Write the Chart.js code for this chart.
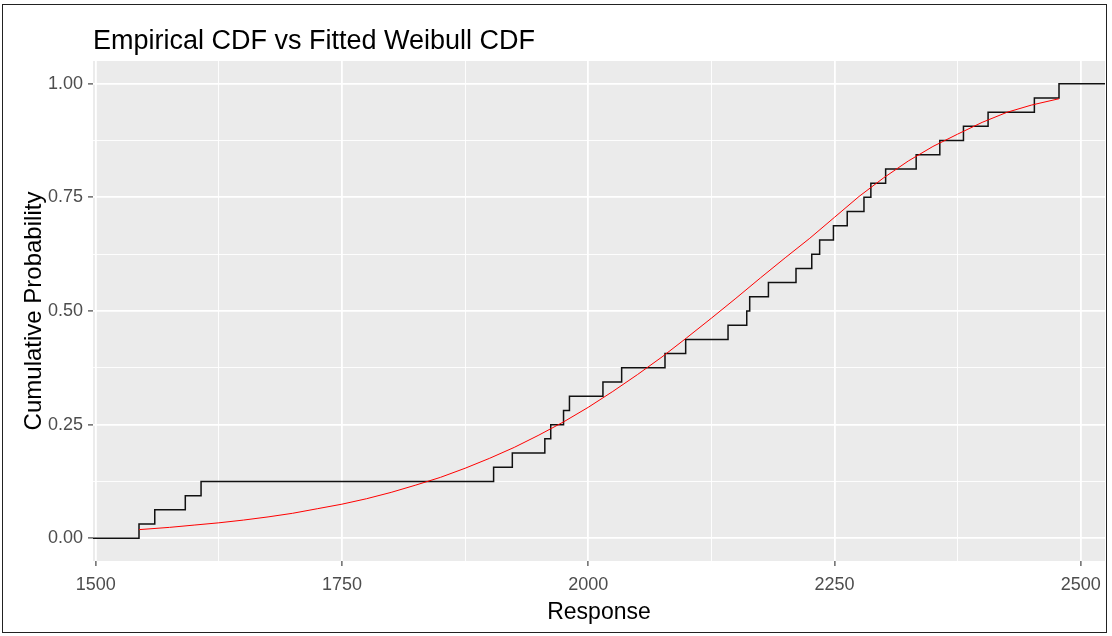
<!DOCTYPE html>
<html>
<head>
  <title>Empirical CDF vs Fitted Weibull CDF</title>
  <script src="https://cdn.jsdelivr.net/npm/chart.js"></script>
  <style>
    body { margin: 0; background: #fff; }
    #wrap { position: relative; width: 1112px; height: 636px; }
    #frame {
      position: absolute; left: 2px; top: 4px; width: 1105px; height: 629px;
      border: 1px solid #222; box-sizing: border-box; pointer-events: none;
    }
  </style>
</head>
<body>
<div id="wrap">
  <canvas id="cdfChart" width="1112" height="636"></canvas>
  <div id="frame"></div>
</div>

<script>
  // sorted responses
  const response = [1544, 1560, 1591, 1607, 1904, 1923, 1956, 1962, 1975, 1981,
                    2015, 2034, 2078, 2099, 2142, 2161, 2164, 2183, 2211, 2227,
                    2235, 2249, 2263, 2280, 2287, 2302, 2333, 2357, 2381, 2406,
                    2453, 2478];
  // empirical cumulative probability at each response
  const ecdfProb = [0.03125, 0.0625, 0.09375, 0.125, 0.15625, 0.1875, 0.21875, 0.25,
                    0.28125, 0.3125, 0.34375, 0.375, 0.40625, 0.4375, 0.46875, 0.5,
                    0.53125, 0.5625, 0.59375, 0.625, 0.65625, 0.6875, 0.71875, 0.75,
                    0.78125, 0.8125, 0.84375, 0.875, 0.90625, 0.9375, 0.96875, 1];

  // fitted weibull cdf (red curve)
  const fitX = [1544, 1575, 1600, 1625, 1650, 1675, 1700, 1725, 1750, 1775,
                1800, 1825, 1850, 1875, 1900, 1925, 1950, 1975, 2000, 2025,
                2050, 2075, 2100, 2125, 2150, 2175, 2200, 2225, 2250, 2275,
                2300, 2325, 2350, 2375, 2400, 2425, 2450, 2478];
  const fitProb = [0.019, 0.024, 0.029, 0.034, 0.040, 0.047, 0.055, 0.065, 0.075, 0.087,
                   0.101, 0.117, 0.134, 0.154, 0.176, 0.200, 0.227, 0.256, 0.288, 0.323,
                   0.360, 0.399, 0.441, 0.484, 0.528, 0.573, 0.617, 0.660, 0.706, 0.752,
                   0.793, 0.830, 0.862, 0.889, 0.915, 0.937, 0.953, 0.967];

  const xMajor = [1500, 1750, 2000, 2250, 2500];
  const xMinor = [1625, 1875, 2125, 2375];
  const yMajor = [0, 0.25, 0.5, 0.75, 1];
  const yMinor = [0.125, 0.375, 0.625, 0.875];

  const xMin = 1497.3, xMax = 2524.7;
  const yMin = -0.05, yMax = 1.05;

  const FONT = "'Liberation Sans', Arial, sans-serif";

  // ecdf padded out to the panel edges like stat_ecdf
  const ecdfPoints = [{ x: xMin, y: 0 }];
  response.forEach((v, i) => ecdfPoints.push({ x: v, y: ecdfProb[i] }));
  ecdfPoints.push({ x: xMax, y: 1 });

  const fitPoints = fitX.map((v, i) => ({ x: v, y: fitProb[i] }));

  const panelBg = {
    id: 'panelBg',
    beforeDraw(chart) {
      const { ctx, chartArea: a } = chart;
      ctx.save();
      ctx.fillStyle = '#EBEBEB';
      ctx.fillRect(a.left, a.top, a.right - a.left, a.bottom - a.top);
      ctx.restore();
    }
  };

  const plotTitle = {
    id: 'plotTitle',
    afterDraw(chart) {
      const { ctx, chartArea: a } = chart;
      ctx.save();
      ctx.fillStyle = '#000';
      ctx.font = '27px ' + FONT;
      ctx.textAlign = 'left';
      ctx.textBaseline = 'alphabetic';
      ctx.fillText('Empirical CDF vs Fitted Weibull CDF', a.left, 49);
      ctx.restore();
    }
  };

  function setTicks(major, minor) {
    return function (scale) {
      scale.ticks = major.concat(minor).sort((a, b) => a - b).map(v => ({ value: v }));
    };
  }

  new Chart(document.getElementById('cdfChart'), {
    type: 'scatter',
    data: {
      datasets: [
        {
          label: 'Fitted Weibull',
          data: fitPoints,
          showLine: true,
          borderColor: '#FF0000',
          borderWidth: 1,
          pointRadius: 0,
          order: 0
        },
        {
          label: 'Empirical',
          data: ecdfPoints,
          showLine: true,
          stepped: 'before',
          borderColor: '#111111',
          borderWidth: 1.5,
          pointRadius: 0,
          order: 1
        }
      ]
    },
    options: {
      responsive: false,
      animation: false,
      layout: { padding: { top: 61, right: 7, left: 0, bottom: 0 } },
      plugins: {
        legend: { display: false },
        tooltip: { enabled: false },
        title: { display: false }
      },
      scales: {
        x: {
          type: 'linear',
          min: xMin,
          max: xMax,
          afterBuildTicks: setTicks(xMajor, xMinor),
          afterFit(scale) { scale.height = 75; },
          border: { display: false },
          grid: {
            color: '#FFFFFF',
            lineWidth: c => xMajor.includes(c.tick.value) ? 1.8 : 0.9,
            tickColor: c => xMajor.includes(c.tick.value) ? '#333333' : 'rgba(0,0,0,0)',
            tickWidth: 1.1,
            tickLength: 5
          },
          ticks: {
            padding: 8,
            maxRotation: 0,
            autoSkip: false,
            color: '#4D4D4D',
            font: { family: FONT, size: 18 },
            callback: v => xMajor.includes(v) ? String(v) : ''
          },
          title: {
            display: true,
            text: 'Response',
            color: '#000',
            font: { family: FONT, size: 23 },
            padding: { top: 0, bottom: 10 }
          }
        },
        y: {
          type: 'linear',
          min: yMin,
          max: yMax,
          afterBuildTicks: setTicks(yMajor, yMinor),
          afterFit(scale) { scale.width = 93; },
          border: { display: false },
          grid: {
            color: '#FFFFFF',
            lineWidth: c => yMajor.includes(c.tick.value) ? 1.8 : 0.9,
            tickColor: c => yMajor.includes(c.tick.value) ? '#333333' : 'rgba(0,0,0,0)',
            tickWidth: 1.1,
            tickLength: 5
          },
          ticks: {
            padding: 5,
            autoSkip: false,
            color: '#4D4D4D',
            font: { family: FONT, size: 18 },
            callback: v => yMajor.includes(v) ? v.toFixed(2) : ''
          },
          title: {
            display: true,
            text: 'Cumulative Probability',
            color: '#000',
            font: { family: FONT, size: 24 },
            padding: { top: 20, bottom: 0 }
          }
        }
      }
    },
    plugins: [panelBg, plotTitle]
  });
</script>
</body>
</html>
